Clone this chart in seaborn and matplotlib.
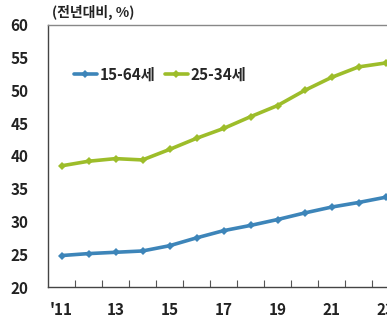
import matplotlib
matplotlib.use("Agg")
import matplotlib.pyplot as plt
import seaborn as sns
import pandas as pd
from matplotlib.lines import Line2D

years = list(range(2011, 2024))
age_15_64 = [24.8, 25.1, 25.3, 25.5, 26.3, 27.5, 28.6, 29.4, 30.3, 31.3, 32.2, 32.9, 33.7]
age_25_34 = [38.5, 39.2, 39.6, 39.4, 41.0, 42.7, 44.2, 46.0, 47.7, 50.0, 52.0, 53.6, 54.2]
series_names = ["15-64세", "25-34세"]
xtick_labels = ["'11", "13", "15", "17", "19", "21", "23"]
unit_label = "(전년대비, %)"

sns.set_theme(style="white")
plt.rcParams["font.family"] = ["Noto Sans CJK KR", "DejaVu Sans"]

df = pd.DataFrame({
    "idx": list(range(len(years))) * 2,
    "value": age_15_64 + age_25_34,
    "series": [series_names[0]] * len(years) + [series_names[1]] * len(years),
})

palette = {series_names[0]: "#3d85b9", series_names[1]: "#9dbd2a"}

fig = plt.figure(figsize=(3.87, 3.23), dpi=100)
W, H = 387, 323
left, right, top, bottom = 48, 48 + 13 * 27, 25, 287
ax = fig.add_axes([left / W, (H - bottom) / H, (right - left) / W, (bottom - top) / H])

sns.lineplot(data=df, x="idx", y="value", hue="series", palette=palette,
             marker="D", markersize=4.5, markeredgewidth=0, linewidth=2.6,
             ax=ax, legend=False)

ax.set_xlim(-0.5, len(years) - 0.5)
ax.set_ylim(20, 60)
ax.set_yticks(range(20, 61, 5))
ax.set_yticklabels([str(v) for v in range(20, 61, 5)], fontsize=11, color="#222222")
ax.set_xticks(range(0, len(years), 2))
ax.set_xticklabels(xtick_labels, fontsize=11, color="#222222")
ax.tick_params(axis="x", length=0, pad=11)
ax.tick_params(axis="y", length=0, pad=14)
for lbl in ax.get_xticklabels() + ax.get_yticklabels():
    lbl.set_fontweight("bold")

# category boundary ticks on the bottom axis, pointing upward
ax.set_xticks([i + 0.5 for i in range(len(years) - 1)], minor=True)
ax.tick_params(axis="x", which="minor", direction="in", length=5, width=0.8,
               color="#555555", bottom=True)

ax.set_xlabel("")
ax.set_ylabel("")
for side in ["left", "bottom"]:
    ax.spines[side].set_color("#444444")
    ax.spines[side].set_linewidth(1.0)
ax.spines["top"].set_color("#888888")
ax.spines["top"].set_linewidth(1.0)
ax.spines["right"].set_visible(False)

# legend
handles = [Line2D([0], [0], color=palette[n], lw=2.6, marker="D", markersize=4,
                  markeredgewidth=0) for n in series_names]
ax.legend(handles, series_names, loc="upper left",
          bbox_to_anchor=(0.035, 0.895), ncol=2, frameon=False,
          handlelength=1.5, handletextpad=0.2, columnspacing=0.6,
          prop={"size": 11, "weight": "bold"})

fig.text(52 / W, 1 - 12 / H, unit_label, fontsize=10, ha="left", va="center",
         color="#222222", fontweight="bold")

fig.savefig("out.png", dpi=100)
